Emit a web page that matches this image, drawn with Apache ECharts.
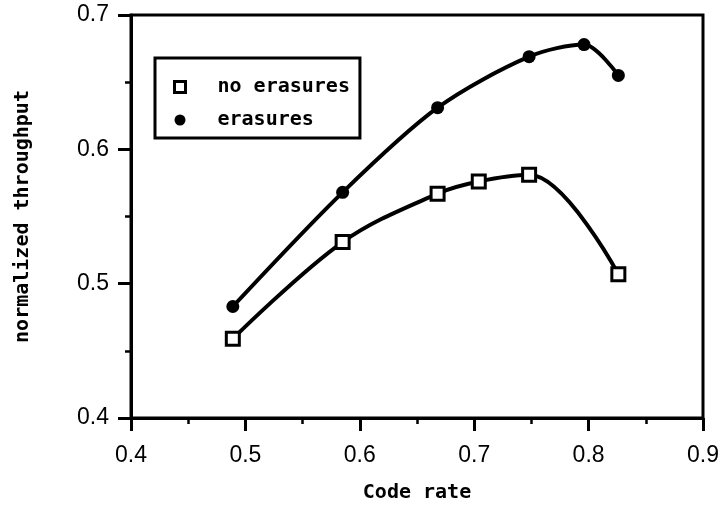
<!DOCTYPE html>
<html>
<head>
<meta charset="utf-8">
<script src="https://cdn.jsdelivr.net/npm/echarts@6/dist/echarts.min.js"></script>
<style>html,body{margin:0;padding:0;background:#fff}#c{width:723px;height:508px}</style>
</head>
<body>
<div id="c"></div>
<script>
const seriesNames = ['no erasures', 'erasures'];
const noErasuresX = [0.489, 0.585, 0.668, 0.704, 0.748, 0.826];
const noErasuresY = [0.459, 0.531, 0.567, 0.576, 0.581, 0.507];
const erasuresX = [0.489, 0.585, 0.668, 0.748, 0.796, 0.826];
const erasuresY = [0.483, 0.568, 0.631, 0.669, 0.678, 0.655];
const xTicks = [0.4, 0.5, 0.6, 0.7, 0.8, 0.9];
const yTicks = [0.4, 0.5, 0.6, 0.7];

const labelFont = 'Liberation Sans';
const textFont = 'DejaVu Sans Mono';
const chart = echarts.init(document.getElementById('c'));
const pair = (xs, ys) => xs.map((x, i) => [x, ys[i]]);
const axisCommon = {
  axisLine: {show: true, lineStyle: {color: '#000', width: 3}},
  axisTick: {show: true, inside: false, length: 13, lineStyle: {color: '#000', width: 3}},
  minorTick: {show: true, splitNumber: 2, length: 6, lineStyle: {color: '#000', width: 2.5}},
  splitLine: {show: false},
  axisLabel: {color: '#000', fontFamily: labelFont, fontSize: 23, formatter: v => v.toFixed(1)},
  nameTextStyle: {color: '#000', fontFamily: textFont, fontSize: 20, fontWeight: 'bold'}
};
chart.setOption({
  animation: false,
  backgroundColor: '#fff',
  grid: {left: 131, right: 20, top: 15, bottom: 88, show: true, borderColor: '#000', borderWidth: 3, backgroundColor: 'transparent'},
  xAxis: Object.assign({}, axisCommon, {
    type: 'value', min: xTicks[0], max: xTicks[xTicks.length - 1], interval: 0.1,
    name: 'Code rate', nameLocation: 'middle', nameGap: 65,
    axisLabel: Object.assign({}, axisCommon.axisLabel, {margin: 26})
  }),
  yAxis: Object.assign({}, axisCommon, {
    type: 'value', min: yTicks[0], max: yTicks[yTicks.length - 1], interval: 0.1,
    name: 'normalized throughput', nameLocation: 'middle', nameGap: 98,
    axisLabel: Object.assign({}, axisCommon.axisLabel, {margin: 22})
  }),
  legend: {
    show: true, orient: 'vertical', left: 155, top: 58,
    padding: [19, 10, 8, 18],
    borderColor: '#000', borderWidth: 3,
    itemGap: 13, itemWidth: 11, itemHeight: 11,
    textStyle: {color: '#000', fontFamily: textFont, fontSize: 20, fontWeight: 'bold', padding: [0, 0, 0, 27]},
    data: [
      {name: seriesNames[0], icon: 'rect', itemStyle: {color: '#fff', borderColor: '#000', borderWidth: 3}},
      {name: seriesNames[1], icon: 'circle', itemStyle: {color: '#000', borderWidth: 0}}
    ]
  },
  series: [
    {
      name: seriesNames[0], type: 'line', smooth: 0.35,
      data: pair(noErasuresX, noErasuresY),
      symbol: 'rect', symbolSize: 13,
      lineStyle: {color: '#000', width: 4},
      itemStyle: {color: '#fff', borderColor: '#000', borderWidth: 3}
    },
    {
      name: seriesNames[1], type: 'line', smooth: 0.3,
      data: pair(erasuresX, erasuresY),
      symbol: 'circle', symbolSize: 13,
      lineStyle: {color: '#000', width: 4},
      itemStyle: {color: '#000', borderColor: '#000', borderWidth: 0}
    }
  ]
});
</script>
</body>
</html>
